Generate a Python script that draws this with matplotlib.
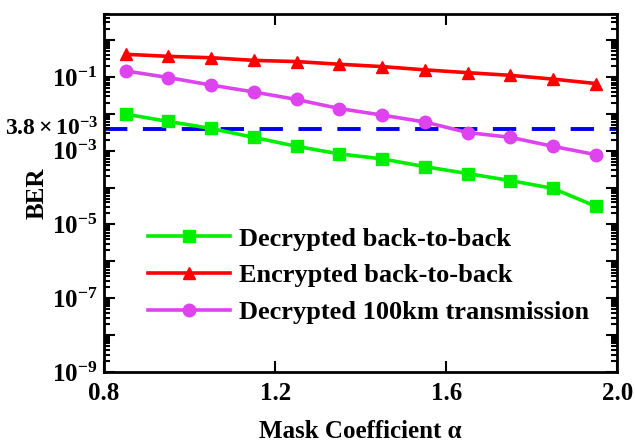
import matplotlib.pyplot as plt
from matplotlib.ticker import FixedLocator, FuncFormatter, NullFormatter
import numpy as np

plt.rcParams['font.family'] = 'Liberation Serif'
plt.rcParams['font.weight'] = 'bold'
plt.rcParams['mathtext.fontset'] = 'custom'
plt.rcParams['mathtext.rm'] = 'Liberation Serif:bold'
plt.rcParams['mathtext.bf'] = 'Liberation Serif:bold'
plt.rcParams['mathtext.it'] = 'Liberation Serif:bold:italic'

alpha = [0.85, 0.95, 1.05, 1.15, 1.25, 1.35, 1.45, 1.55, 1.65, 1.75, 1.85, 1.95]
ber_dec_b2b = [9.8e-3, 6.2e-3, 4.0e-3, 2.3e-3, 1.31e-3, 8.2e-4, 6.0e-4, 3.7e-4,
               2.4e-4, 1.55e-4, 9.5e-5, 3.1e-5]
ber_enc_b2b = [0.41, 0.36, 0.33, 0.28, 0.26, 0.22, 0.19, 0.155, 0.13, 0.11, 0.087, 0.066]
ber_dec_100km = [0.145, 0.096, 0.060, 0.039, 0.0244, 0.0139, 0.0092, 0.0060,
                 0.0031, 0.0023, 0.00131, 0.00078]
fec_limit = 3.8e-3

fig = plt.figure(figsize=(6.35, 4.43), dpi=100)
ax = fig.add_axes([0.164, 0.160, 0.808, 0.808])

ax.plot(alpha, ber_dec_b2b, color='#00EE00', lw=2.6, marker='s', ms=8,
        label='Decrypted back-to-back')
ax.plot(alpha, ber_enc_b2b, color='#FF0000', lw=2.6, marker='^', ms=9,
        label='Encrypted back-to-back')
ax.plot(alpha, ber_dec_100km, color='#DD44EE', lw=2.6, marker='o', ms=9,
        label='Decrypted 100km transmission')
ax.axhline(fec_limit, color='#0000EE', lw=2.8, ls=(0, (6, 4)), zorder=1)

ax.set_yscale('log')
ax.set_ylim(1e-9, 5)
ax.set_xlim(0.8, 2.0)
ax.set_xticks([0.8, 1.2, 1.6, 2.0])
ax.xaxis.set_major_formatter(FuncFormatter(lambda v, p: '%.1f' % v))

ax.yaxis.set_major_locator(FixedLocator([10.0 ** k for k in range(-9, 1)]))
minors = [m * 10.0 ** k for k in range(-9, 1) for m in range(2, 10)]
ax.yaxis.set_minor_locator(FixedLocator(minors))
ax.yaxis.set_minor_formatter(NullFormatter())


def ylab(v, p):
    k = int(round(np.log10(v)))
    if k % 2 == 0:
        return ''
    return r'$10^{%d}$' % k


ax.yaxis.set_major_formatter(FuncFormatter(ylab))

ax.tick_params(which='both', direction='in', top=True, right=True, width=1.5,
               labelsize=18)
ax.tick_params(which='major', length=8)
ax.tick_params(which='minor', length=4)
ax.tick_params(axis='x', pad=7)
ax.tick_params(axis='y', pad=5)
for s in ax.spines.values():
    s.set_linewidth(2)

ax.text(-0.012, fec_limit, r'$3.8\times10^{-3}$', transform=ax.get_yaxis_transform(),
        ha='right', va='center', fontsize=17)

ax.set_xlabel('Mask Coefficient α', fontsize=18, fontweight='bold', labelpad=11)
ax.set_ylabel('BER', fontsize=18, fontweight='bold', labelpad=2)

ax.legend(loc='lower left', bbox_to_anchor=(0.065, 0.105), frameon=False, fontsize=19,
          handlelength=3.1, handletextpad=0.35, labelspacing=0.5, borderaxespad=0)

fig.savefig('out.png', dpi=100)
